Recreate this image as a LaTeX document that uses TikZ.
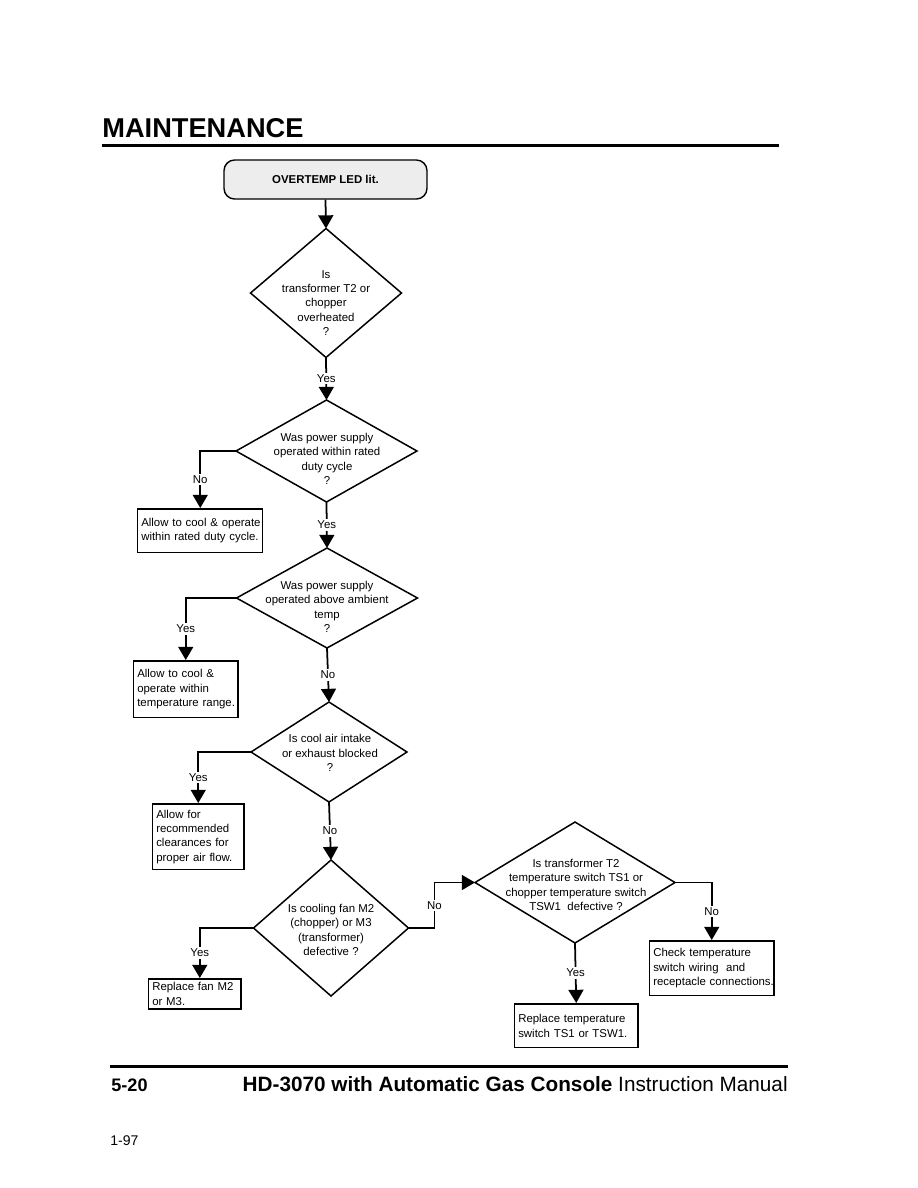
\documentclass[tikz,border=0pt]{standalone}
\usepackage{fontspec}
\setmainfont{Liberation Sans}
\usetikzlibrary{arrows.meta,positioning,calc,shapes.geometric}

\begin{document}
\begin{tikzpicture}[
  x=0.02cm, y=-0.02cm,
  startBox/.style={rectangle, draw, rounded corners=6pt, line width=0.8pt, fill=black!7, minimum width=4.06cm, minimum height=0.78cm, font=\fontsize{6.5}{8.2}\selectfont\bfseries},
  qDiamond/.style={diamond, draw, line width=0.85pt, inner sep=0pt, outer sep=0pt},
  qText/.style={align=center, inner sep=0pt, font=\fontsize{6.5}{8.2}\selectfont},
  aBox/.style={rectangle, draw, line width=0.85pt, anchor=north west, align=left, inner xsep=2pt, inner ysep=0pt, font=\fontsize{6.5}{8.2}\selectfont},
  ans/.style={fill=white, inner sep=1pt, font=\fontsize{6.5}{8}\selectfont},
  flow/.style={line width=1pt, -{Triangle[length=7.5pt, width=8.5pt]}},
  rule/.style={line width=1.7pt},
]
\useasboundingbox (0,0) rectangle (918,1188);

% page head and foot
\node[anchor=base west, inner sep=0pt, font=\fontsize{15.5}{18}\selectfont\bfseries] (title) at (102,137) {MAINTENANCE};
\draw[rule] (102,145) -- (779,145);
\draw[rule] (110,1066) -- (788,1066);
\node[anchor=base west, inner sep=0pt, font=\fontsize{10.3}{12}\selectfont\bfseries] (page) at (111,1091) {5-20};
\node[anchor=base east, inner sep=0pt, font=\fontsize{11.8}{14}\selectfont] (manual) at (788,1091) {\textbf{HD-3070 with Automatic Gas Console} Instruction Manual};
\node[anchor=base west, inner sep=0pt, font=\fontsize{8}{10}\selectfont] (date) at (110,1145) {1-97};

% start
\node[startBox] (start) at (325.5,179.5) {OVERTEMP LED lit.};

% decisions: vertices at the node, text set apart
\node[qDiamond, minimum width=3.02cm, minimum height=2.58cm] (d1) at (326,293) {};
\node[qText] (t1) at (326,303) {Is\\transformer T2 or\\chopper\\overheated\\?};
\node[qDiamond, minimum width=3.62cm, minimum height=2.04cm] (d2) at (326.5,451) {};
\node[qText] (t2) at (327,459) {Was power supply\\operated within rated\\duty cycle\\?};
\node[qDiamond, minimum width=3.62cm, minimum height=2.0cm] (d3) at (327,598) {};
\node[qText] (t3) at (327,607) {Was power supply\\operated above ambient\\temp\\?};
\node[qDiamond, minimum width=3.12cm, minimum height=2.0cm] (d4) at (329,752) {};
\node[qText] (t4) at (330,753) {Is cool air intake\\or exhaust blocked\\?};
\node[qDiamond, minimum width=3.1cm, minimum height=2.72cm] (d5) at (331,928) {};
\node[qText] (t5) at (331,930) {Is cooling fan M2\\(chopper) or M3\\(transformer)\\defective ?};
\node[qDiamond, minimum width=4.0cm, minimum height=2.42cm] (d6) at (575,882.5) {};
\node[qText] (t6) at (576,885) {Is transformer T2\\temperature switch TS1 or\\chopper temperature switch\\TSW1\ \ defective ?};

% actions
\node[aBox, text width=2.36cm, minimum height=0.88cm] (box1) at (137,508) {\mbox{Allow to cool \& operate}\\within rated duty cycle.};
\node[aBox, text width=1.94cm, minimum height=1.14cm] (box2) at (133,660) {Allow to cool \&\\operate within\\\mbox{temperature range.}};
\node[aBox, text width=1.68cm, minimum height=1.32cm] (box3) at (152,803) {Allow for\\recommended\\clearances for\\proper air flow.};
\node[aBox, text width=1.70cm, minimum height=0.6cm] (box4) at (148,978) {Replace fan M2\\or M3.};
\node[aBox, text width=2.32cm, minimum height=0.88cm] (box5) at (514,1003) {Replace temperature\\switch TS1 or TSW1.};
\node[aBox, text width=2.34cm, minimum height=1.1cm] (box6) at (649,940) {Check temperature\\switch wiring\ \ and\\\mbox{receptacle connections.}};

% connectors
\draw[flow] (start.south) -- (d1.north);
\draw[flow] (d1.south) -- node[ans] {Yes} (d2.north);
\draw[flow] (d2.west) -| node[ans, pos=0.75] {No} (box1.north);
\draw[flow] (d2.south) -- node[ans] {Yes} (d3.north);
\draw[flow] (d3.west) -| node[ans, pos=0.75] {Yes} (box2.north);
\draw[flow] (d3.south) -- node[ans] {No} (d4.north);
\draw[flow] (d4.west) -| node[ans, pos=0.75] {Yes} (box3.north);
\draw[flow] (d4.south) -- node[ans] {No} (d5.north);
\draw[flow] (d5.west) -| node[ans, pos=0.75] {Yes} ($(box4.north west)!0.554!(box4.north east)$);
\draw[flow] (d5.east) -- ++(26,0) |- node[ans, pos=0.25] {No} (d6.west);
\draw[flow] (d6.east) -| node[ans, pos=0.75] {No} (box6.north);
\draw[flow] (d6.south) -- node[ans] {Yes} (box5.north);
\end{tikzpicture}
\end{document}
